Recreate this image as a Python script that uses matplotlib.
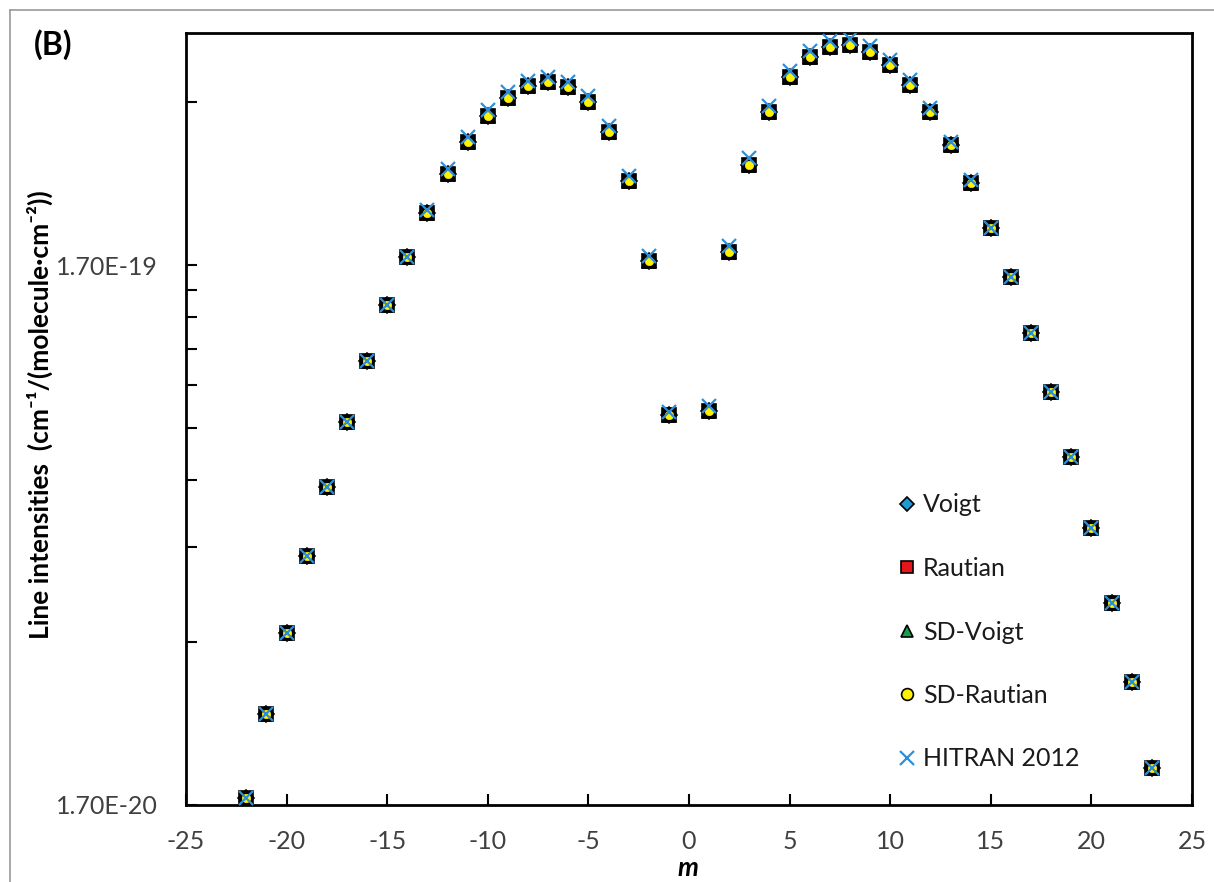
import matplotlib
matplotlib.use("Agg")
import matplotlib.pyplot as plt
from matplotlib.ticker import FixedLocator, FixedFormatter, NullFormatter
from matplotlib.lines import Line2D

plt.rcParams['font.family'] = ['Lato', 'DejaVu Sans']

# ---- data (line intensities in units of 1e-20 cm^-1/(molecule cm^-2)) ----
m = [-22, -21, -20, -19, -18, -17, -16, -15, -14, -13, -12, -11, -10, -9, -8, -7,
     -6, -5, -4, -3, -2, -1, 1, 2, 3, 4, 5, 6, 7, 8, 9, 10, 11, 12, 13, 14, 15, 16,
     17, 18, 19, 20, 21, 22, 23]

voigt = [1.751, 2.506, 3.539, 4.915, 6.596, 8.705, 11.29, 14.34, 17.59, 21.23, 25.06,
         28.73, 32.09, 34.66, 36.48, 37.11, 36.32, 34.07, 29.98, 24.32, 17.29, 8.968,
         9.121, 17.97, 26.04, 32.64, 37.90, 41.27, 43.07, 43.44, 42.16, 39.89, 36.62,
         32.64, 28.36, 24.12, 19.90, 16.15, 12.72, 9.892, 7.498, 5.539, 4.022, 2.873, 1.991]
rautian = [1.751, 2.506, 3.539, 4.915, 6.596, 8.705, 11.29, 14.34, 17.59, 21.23, 25.06,
           28.73, 32.09, 34.66, 36.48, 37.11, 36.32, 34.07, 29.98, 24.32, 17.29, 8.968,
           9.121, 17.97, 26.04, 32.64, 37.90, 41.27, 43.07, 43.44, 42.16, 39.89, 36.62,
           32.64, 28.36, 24.12, 19.90, 16.15, 12.72, 9.892, 7.498, 5.539, 4.022, 2.873, 1.991]
sd_voigt = [1.751, 2.506, 3.539, 4.915, 6.596, 8.705, 11.29, 14.34, 17.59, 21.23, 25.06,
            28.73, 32.09, 34.66, 36.48, 37.11, 36.32, 34.07, 29.98, 24.32, 17.29, 8.968,
            9.121, 17.97, 26.04, 32.64, 37.90, 41.27, 43.07, 43.44, 42.16, 39.89, 36.62,
            32.64, 28.36, 24.12, 19.90, 16.15, 12.72, 9.892, 7.498, 5.539, 4.022, 2.873, 1.991]
sd_rautian = [1.751, 2.506, 3.539, 4.915, 6.596, 8.705, 11.29, 14.34, 17.59, 21.23, 25.06,
              28.73, 32.09, 34.66, 36.48, 37.11, 36.32, 34.07, 29.98, 24.32, 17.29, 8.968,
              9.121, 17.97, 26.04, 32.64, 37.90, 41.27, 43.07, 43.44, 42.16, 39.89, 36.62,
              32.64, 28.36, 24.12, 19.90, 16.15, 12.72, 9.892, 7.498, 5.539, 4.022, 2.873, 1.991]
hitran = [1.751, 2.506, 3.539, 4.915, 6.596, 8.705, 11.29, 14.34, 17.59, 21.50, 25.60,
          29.40, 32.90, 35.50, 37.30, 37.90, 37.10, 34.90, 30.70, 24.90, 17.70, 9.10,
          9.30, 18.40, 26.80, 33.50, 38.90, 42.30, 44.20, 44.50, 43.20, 40.80, 37.40,
          33.20, 28.70, 24.40, 19.90, 16.15, 12.72, 9.892, 7.498, 5.539, 4.022, 2.873, 1.991]

labels = ["Voigt", "Rautian", "SD-Voigt", "SD-Rautian", "HITRAN 2012"]
y_major = [1.7e-20, 1.7e-19]
y_major_labels = ["1.70E-20", "1.70E-19"]
x_ticks = [-25, -20, -15, -10, -5, 0, 5, 10, 15, 20, 25]

scale = 1e-20

fig = plt.figure(figsize=(12.14, 8.82), dpi=100)
W, H = 1214, 882
L, R, T, B = 186, 1192, 33, 805
ax = fig.add_axes([L / W, 1 - B / H, (R - L) / W, (B - T) / H])

def sc(v):
    return [x * scale for x in v]

ms = 10
ax.plot(m, sc(voigt), linestyle='none', marker='D', markersize=ms * 0.8,
        markerfacecolor='#1E9BD7', markeredgecolor='black', markeredgewidth=1.2,
        label=labels[0], zorder=3)
ax.plot(m, sc(rautian), linestyle='none', marker='s', markersize=ms,
        markerfacecolor='black', markeredgecolor='black', markeredgewidth=1.2,
        label=labels[1], zorder=4)
ax.plot(m, sc(sd_voigt), linestyle='none', marker='^', markersize=ms,
        markerfacecolor='black', markeredgecolor='black', markeredgewidth=1.2,
        label=labels[2], zorder=5)
ax.plot(m, sc(sd_rautian), linestyle='none', marker='o', markersize=ms * 0.6,
        markerfacecolor='#FFF200', markeredgecolor='#FFF200', markeredgewidth=0.5,
        label=labels[3], zorder=6)
ax.plot(m, sc(hitran), linestyle='none', marker='x', markersize=ms * 0.95,
        markeredgecolor='#2E8FD8', markeredgewidth=1.6, label=labels[4], zorder=7)

ax.set_yscale('log')
ax.set_xlim(-25, 25)
ax.set_ylim(1.7e-20, 4.572e-19)

ax.xaxis.set_major_locator(FixedLocator(x_ticks))
ax.set_xticklabels([str(t) for t in x_ticks])
ax.yaxis.set_major_locator(FixedLocator(y_major))
ax.yaxis.set_major_formatter(FixedFormatter(y_major_labels))
minors = [k * 1.7e-20 for k in range(2, 10)] + [2 * 1.7e-19]
ax.yaxis.set_minor_locator(FixedLocator(minors))
ax.yaxis.set_minor_formatter(NullFormatter())
ax.xaxis.set_minor_locator(FixedLocator([]))

ax.tick_params(axis='both', which='both', direction='in', length=8, width=1.5,
               color='black', labelsize=18, labelcolor='#404040')
ax.tick_params(axis='x', pad=18)
ax.tick_params(axis='y', pad=20)
for s in ax.spines.values():
    s.set_linewidth(2)
    s.set_color('black')

handles = [
    Line2D([], [], linestyle='none', marker='D', markersize=7, markerfacecolor='#1E9BD7',
           markeredgecolor='black', markeredgewidth=1.2),
    Line2D([], [], linestyle='none', marker='s', markersize=9, markerfacecolor='#E8141B',
           markeredgecolor='black', markeredgewidth=1.2),
    Line2D([], [], linestyle='none', marker='^', markersize=9, markerfacecolor='#14A04A',
           markeredgecolor='black', markeredgewidth=1.2),
    Line2D([], [], linestyle='none', marker='o', markersize=8.5, markerfacecolor='#FFF200',
           markeredgecolor='black', markeredgewidth=1.2),
    Line2D([], [], linestyle='none', marker='x', markersize=10, markeredgecolor='#2E8FD8',
           markeredgewidth=1.6),
]
leg = fig.legend(handles, labels, loc='center left',
                 bbox_to_anchor=(898 / W, 1 - 632 / H), bbox_transform=fig.transFigure,
                 frameon=False, fontsize=18, handlelength=0.7, handletextpad=0.3,
                 labelspacing=1.62, borderpad=0, borderaxespad=0)
for t in leg.get_texts():
    t.set_color('#1a1a1a')

fig.text(40 / W, 1 - 415 / H, "Line intensities  (cm\u207b\u00b9/(molecule\u00b7cm\u207b\u00b2))",
         rotation=90, ha='center', va='center', fontsize=19, fontweight='bold', color='black')
fig.text(688 / W, 1 - 876 / H, "m", ha='center', va='baseline', fontsize=19,
         fontweight='bold', fontstyle='italic', color='black')
fig.text(34 / W, 1 - 45 / H, "(B)", ha='left', va='center', fontsize=23,
         fontweight='bold', color='black')

fig.add_artist(Line2D([10 / W, 10 / W], [0, 1 - 10 / H], transform=fig.transFigure,
                      color='#9a9a9a', linewidth=1.2))
fig.add_artist(Line2D([10 / W, 1], [1 - 10 / H, 1 - 10 / H], transform=fig.transFigure,
                      color='#9a9a9a', linewidth=1.2))

fig.savefig("out.png", dpi=100)
